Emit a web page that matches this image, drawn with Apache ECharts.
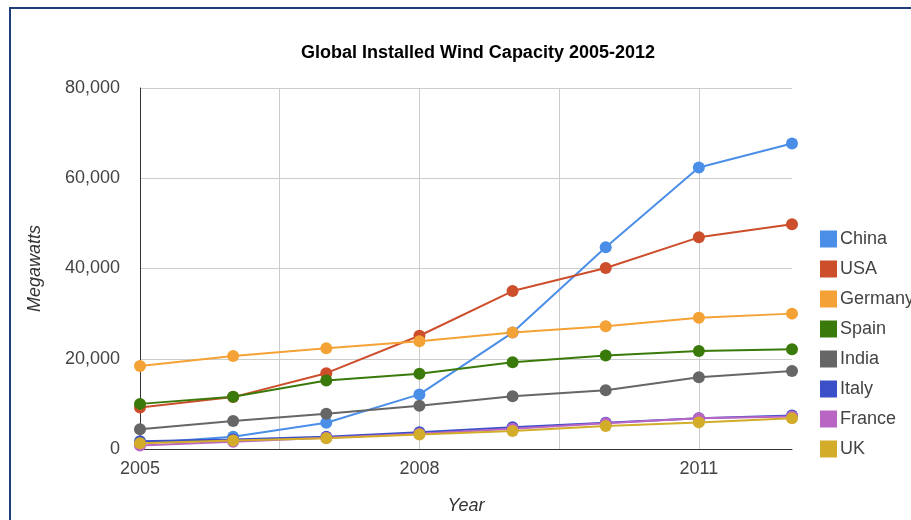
<!DOCTYPE html>
<html>
<head>
<meta charset="utf-8">
<script src="https://cdn.jsdelivr.net/npm/echarts@6/dist/echarts.min.js"></script>
<style>
html,body{margin:0;padding:0;background:#fff;}
#chart{width:911px;height:520px;}
</style>
</head>
<body>
<div id="chart"></div>
<script>
var years = [2005, 2006, 2007, 2008, 2009, 2010, 2011, 2012];
var xTickLabels = [2005, 2008, 2011];
var countries = ['China', 'USA', 'Germany', 'Spain', 'India', 'Italy', 'France', 'UK'];
var china   = [1300, 2700, 5800, 12100, 25800, 44700, 62400, 67700];
var usa     = [9200, 11500, 16800, 25100, 35000, 40100, 46900, 49800];
var germany = [18400, 20600, 22300, 23900, 25800, 27200, 29100, 30000];
var spain   = [10000, 11600, 15200, 16700, 19200, 20700, 21700, 22100];
var india   = [4400, 6200, 7800, 9600, 11700, 13000, 15900, 17300];
var italy   = [1700, 2100, 2700, 3700, 4800, 5800, 6800, 7400];
var france  = [800, 1600, 2500, 3400, 4500, 5700, 6800, 7200];
var uk      = [1300, 1900, 2400, 3200, 4000, 5100, 5900, 6800];
var colors = ['#4a8ee8', '#cc4e2b', '#f4a235', '#3a7a0a', '#666666', '#3a4fc8', '#b965c4', '#d3ad2a'];

var seriesData = [china, usa, germany, spain, india, italy, france, uk];
var FONT = '"Liberation Sans", Arial, sans-serif';

var chart = echarts.init(document.getElementById('chart'));
var series = countries.map(function (name, i) {
  return {
    name: name,
    type: 'line',
    data: years.map(function (y, j) { return [y, seriesData[i][j]]; }),
    symbol: 'circle',
    symbolSize: 12,
    showAllSymbol: true,
    lineStyle: { width: 2, color: colors[i] },
    itemStyle: { color: colors[i] },
    emphasis: { disabled: true },
    animation: false
  };
});

chart.setOption({
  animation: false,
  color: colors,
  textStyle: { fontFamily: FONT },
  graphic: [{
    type: 'rect',
    shape: { x: 10, y: 8, width: 920, height: 540 },
    style: { fill: 'none', stroke: '#1f3d7a', lineWidth: 2 },
    silent: true
  }],
  title: {
    text: 'Global Installed Wind Capacity 2005-2012',
    left: 473,
    textAlign: 'center',
    top: 39,
    textStyle: { fontFamily: FONT, fontSize: 18, fontWeight: 'bold', color: '#000' }
  },
  legend: {
    orient: 'vertical',
    left: 815,
    top: 225,
    icon: 'rect',
    itemWidth: 17,
    itemHeight: 17,
    itemGap: 12,
    textStyle: { fontFamily: FONT, fontSize: 18, color: '#444', padding: [0, 0, 0, -2] },
    data: countries
  },
  grid: { left: 140, right: 119, top: 88, bottom: 69, containLabel: false },
  xAxis: {
    type: 'value',
    min: 2005,
    max: 2012,
    interval: 1.5,
    name: 'Year',
    nameLocation: 'middle',
    nameGap: 48,
    nameTextStyle: { fontFamily: FONT, fontSize: 18, fontStyle: 'italic', color: '#333' },
    axisLine: { show: true, lineStyle: { color: '#333', width: 1 } },
    axisTick: { show: false },
    axisLabel: {
      fontFamily: FONT, fontSize: 18, color: '#444', margin: 11,
      showMaxLabel: false,
      formatter: function (v) { return xTickLabels.indexOf(v) >= 0 ? String(v) : ''; }
    },
    splitLine: { show: true, showMinLine: false, showMaxLine: false, lineStyle: { color: '#cccccc', width: 1 } }
  },
  yAxis: {
    type: 'value',
    min: 0,
    max: 80000,
    interval: 20000,
    name: 'Megawatts',
    nameLocation: 'middle',
    nameGap: 96,
    nameTextStyle: { fontFamily: FONT, fontSize: 18, fontStyle: 'italic', color: '#333' },
    axisLine: { show: true, lineStyle: { color: '#333', width: 1 } },
    axisTick: { show: false },
    axisLabel: {
      fontFamily: FONT, fontSize: 18, color: '#444', margin: 20,
      formatter: function (v) { return v.toLocaleString('en-US'); }
    },
    splitLine: { show: true, lineStyle: { color: '#cccccc', width: 1 } }
  },
  series: series
});
</script>
</body>
</html>
